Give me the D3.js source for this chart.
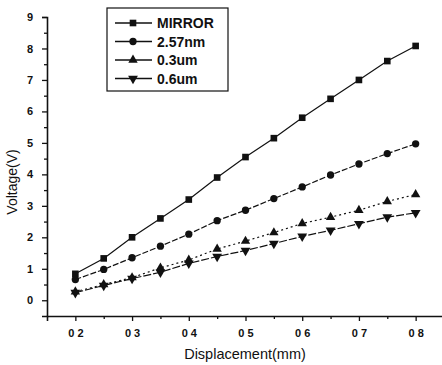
<!DOCTYPE html>
<meta charset="utf-8">
<style>
  body { margin: 0; background: #fff; }
  text { font-family: "Liberation Sans", Arial, sans-serif; fill: #111; }
</style>
<svg width="442" height="365"></svg>
<script src="https://cdn.jsdelivr.net/npm/d3@7/dist/d3.min.js"></script>
<script>
  var displacement = [0.2, 0.25, 0.3, 0.35, 0.4, 0.45, 0.5, 0.55, 0.6, 0.65, 0.7, 0.75, 0.8];
  var mirror   = [0.84, 1.33, 2.0, 2.6, 3.2, 3.9, 4.55, 5.15, 5.8, 6.4, 7.0, 7.6, 8.08];
  var nm257    = [0.66, 0.98, 1.35, 1.72, 2.1, 2.53, 2.86, 3.23, 3.6, 3.98, 4.33, 4.66, 4.97];
  var um03     = [0.27, 0.5, 0.72, 1.03, 1.28, 1.63, 1.88, 2.15, 2.44, 2.64, 2.86, 3.14, 3.36];
  var um06     = [0.24, 0.47, 0.69, 0.89, 1.17, 1.39, 1.58, 1.8, 2.03, 2.22, 2.43, 2.64, 2.78];
  var seriesNames = ["MIRROR", "2.57nm", "0.3um", "0.6um"];
  var xTicks = [0.2, 0.3, 0.4, 0.5, 0.6, 0.7, 0.8];
  var xTickLabels = ["0 2", "0 3", "0 4", "0 5", "0 6", "0 7", "0 8"];
  var yTicks = [0, 1, 2, 3, 4, 5, 6, 7, 8, 9];

  var series = [
    {name: seriesNames[0], values: mirror, symbol: d3.symbolSquare, size: 44, dash: null},
    {name: seriesNames[1], values: nm257, symbol: d3.symbolCircle, size: 42, dash: "6,2"},
    {name: seriesNames[2], values: um03, symbol: d3.symbolTriangle, size: 38, dash: "2,3"},
    {name: seriesNames[3], values: um06, symbol: d3.symbolTriangle, size: 42, dash: "8,2", flip: true}
  ];

  var svg = d3.select("svg");
  var x = d3.scaleLinear().domain([0.15, 0.85]).range([47, 444]);
  var y = d3.scaleLinear().domain([-0.5, 9]).range([316, 17]);

  // axes
  svg.append("g").attr("transform", "translate(0,316)")
    .call(d3.axisBottom(x).tickValues(xTicks).tickSize(5).tickPadding(8)
      .tickFormat(function(d, i) { return xTickLabels[i]; }));
  svg.append("g").attr("transform", "translate(0,316)")
    .call(d3.axisBottom(x).tickValues(d3.range(0.25, 0.8, 0.1)).tickSize(3).tickFormat(""))
    .select(".domain").remove();
  svg.append("g").attr("transform", "translate(47,0)")
    .call(d3.axisLeft(y).tickValues(yTicks).tickSize(5).tickPadding(9));
  svg.append("g").attr("transform", "translate(47,0)")
    .call(d3.axisLeft(y).tickValues(d3.range(0.5, 9, 1)).tickSize(3).tickFormat(""))
    .select(".domain").remove();

  svg.selectAll(".domain").attr("stroke", "#111").attr("stroke-width", 1.6);
  svg.selectAll(".tick line").attr("stroke", "#111").attr("stroke-width", 1.3);
  svg.selectAll(".tick text").style("font-size", "11px").style("font-weight", "bold")
    .style("font-family", "'Liberation Sans', Arial, sans-serif").attr("fill", "#111");

  // axis titles
  svg.append("text").attr("transform", "translate(17,182) rotate(-90)")
    .attr("text-anchor", "middle").style("font-size", "14px").text("Voltage(V)");
  svg.append("text").attr("x", 245).attr("y", 359)
    .attr("text-anchor", "middle").style("font-size", "14.5px").text("Displacement(mm)");

  var line = d3.line()
    .x(function(d, i) { return x(displacement[i]); })
    .y(function(d) { return y(d); });

  function marker(sel, s) {
    sel.attr("d", d3.symbol().type(s.symbol).size(s.size)).attr("fill", "#111");
  }

  series.forEach(function(s) {
    svg.append("path").datum(s.values)
      .attr("fill", "none").attr("stroke", "#111").attr("stroke-width", 1.2)
      .attr("stroke-dasharray", s.dash).attr("d", line);
    svg.selectAll(null).data(s.values).enter().append("path")
      .attr("transform", function(d, i) {
        return "translate(" + x(displacement[i]) + "," + y(d) + ")" + (s.flip ? " rotate(180)" : "");
      })
      .call(marker, s);
  });

  // legend
  var lg = svg.append("g");
  lg.append("rect").attr("x", 107).attr("y", 8).attr("width", 121).attr("height", 83)
    .attr("fill", "#fff").attr("stroke", "#111").attr("stroke-width", 1.2);
  series.forEach(function(s, i) {
    var yy = 23 + i * 18.5;
    lg.append("line").attr("x1", 115).attr("x2", 152).attr("y1", yy).attr("y2", yy)
      .attr("stroke", "#111").attr("stroke-width", 1.3);
    lg.append("path").attr("transform", "translate(133," + yy + ")" + (s.flip ? " rotate(180)" : ""))
      .call(marker, s);
    lg.append("text").attr("x", 157).attr("y", yy + 5).style("font-size", "14px")
      .style("font-weight", "bold").text(s.name);
  });
</script>
